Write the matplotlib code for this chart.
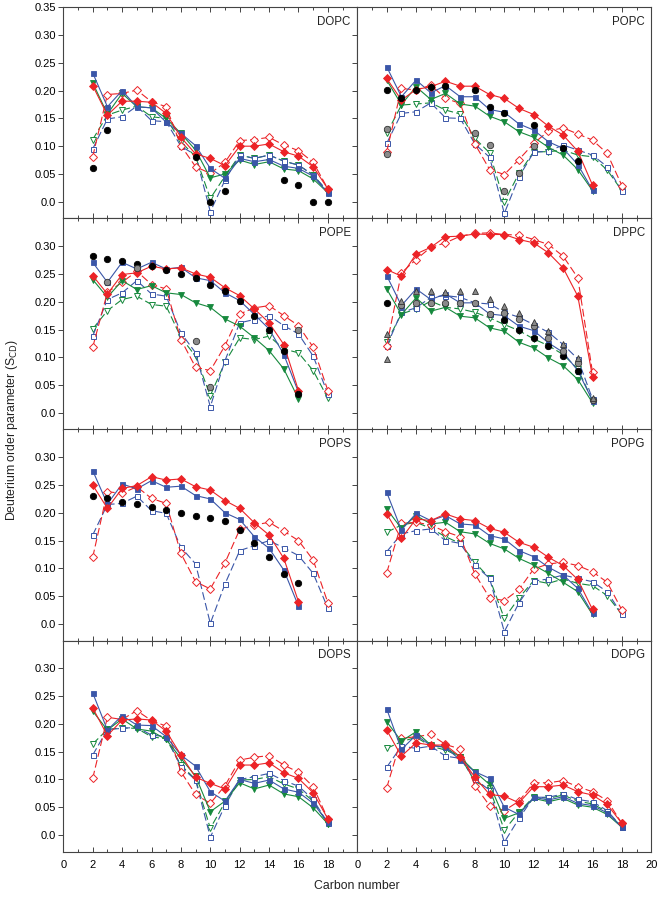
import matplotlib
matplotlib.use("Agg")
import matplotlib.pyplot as plt
from matplotlib.ticker import MultipleLocator, FuncFormatter

plt.rcParams['font.family'] = ['Liberation Sans', 'DejaVu Sans']

# numeros de carbono
c16 = list(range(2, 17))
c18 = list(range(2, 19))

# ---------------- DOPC ----------------
dopc_red = [0.209, 0.156, 0.181, 0.181, 0.179, 0.159, 0.116, 0.086, 0.078, 0.065, 0.100, 0.100, 0.104, 0.090, 0.082, 0.063, 0.023]
dopc_red_o = [0.081, 0.193, 0.195, 0.201, 0.180, 0.171, 0.101, 0.063, 0.051, 0.071, 0.110, 0.112, 0.116, 0.102, 0.092, 0.071, 0.023]
dopc_blue = [0.232, 0.171, 0.200, 0.171, 0.169, 0.143, 0.123, 0.101, 0.060, 0.042, 0.078, 0.072, 0.076, 0.064, 0.060, 0.046, 0.016]
dopc_blue_o = [0.095, 0.149, 0.153, 0.172, 0.146, 0.144, 0.100, 0.084, -0.018, 0.039, 0.084, 0.078, 0.084, 0.073, 0.066, 0.048, 0.018]
dopc_green = [0.214, 0.158, 0.195, 0.171, 0.169, 0.150, 0.123, 0.093, 0.043, 0.050, 0.075, 0.067, 0.072, 0.059, 0.056, 0.041, 0.016]
dopc_green_o = [0.112, 0.156, 0.165, 0.172, 0.153, 0.150, 0.108, 0.081, 0.006, 0.046, 0.084, 0.078, 0.084, 0.073, 0.066, 0.048, 0.018]
dopc_black_x = [2, 3, 9, 10, 11, 15, 16, 17, 18]
dopc_black_y = [0.060, 0.130, 0.081, 0.000, 0.020, 0.040, 0.030, 0.000, 0.000]

# ---------------- POPC ----------------
popc_red = [0.222, 0.183, 0.202, 0.207, 0.217, 0.208, 0.208, 0.193, 0.186, 0.168, 0.157, 0.136, 0.120, 0.091, 0.030]
popc_red_o = [0.090, 0.204, 0.201, 0.210, 0.186, 0.177, 0.104, 0.058, 0.049, 0.076, 0.105, 0.127, 0.133, 0.122, 0.111, 0.087, 0.029]
popc_blue = [0.243, 0.189, 0.219, 0.196, 0.209, 0.189, 0.189, 0.166, 0.161, 0.140, 0.129, 0.108, 0.096, 0.067, 0.021]
popc_blue_o = [0.105, 0.159, 0.162, 0.178, 0.151, 0.150, 0.104, 0.080, -0.021, 0.045, 0.089, 0.091, 0.102, 0.093, 0.084, 0.063, 0.019]
popc_green = [0.219, 0.175, 0.207, 0.184, 0.195, 0.176, 0.172, 0.154, 0.144, 0.126, 0.116, 0.098, 0.084, 0.058, 0.020]
popc_green_o = [0.123, 0.174, 0.176, 0.178, 0.165, 0.158, 0.114, 0.088, 0.000, 0.051, 0.090, 0.090, 0.093, 0.084, 0.081, 0.057, 0.020]
popc_black_x = [2, 3, 4, 5, 6, 8, 9, 10, 12, 14, 15]
popc_black_y = [0.202, 0.186, 0.202, 0.206, 0.209, 0.201, 0.171, 0.160, 0.138, 0.096, 0.073]
popc_gray_x = [2, 2, 8, 9, 10, 11, 12]
popc_gray_y = [0.131, 0.086, 0.123, 0.103, 0.020, 0.051, 0.101]

# ---------------- POPE ----------------
pope_red = [0.247, 0.214, 0.249, 0.252, 0.264, 0.259, 0.261, 0.250, 0.244, 0.225, 0.211, 0.187, 0.162, 0.123, 0.040]
pope_red_o = [0.118, 0.217, 0.235, 0.255, 0.231, 0.223, 0.132, 0.082, 0.076, 0.121, 0.178, 0.189, 0.193, 0.175, 0.157, 0.118, 0.040]
pope_blue = [0.271, 0.235, 0.271, 0.259, 0.271, 0.259, 0.262, 0.243, 0.238, 0.216, 0.202, 0.177, 0.151, 0.105, 0.037]
pope_blue_o = [0.138, 0.204, 0.216, 0.238, 0.214, 0.210, 0.144, 0.108, 0.011, 0.094, 0.162, 0.168, 0.175, 0.157, 0.142, 0.102, 0.034]
pope_green = [0.240, 0.208, 0.238, 0.222, 0.229, 0.216, 0.213, 0.198, 0.190, 0.169, 0.156, 0.135, 0.112, 0.079, 0.025]
pope_green_o = [0.151, 0.184, 0.204, 0.210, 0.195, 0.192, 0.136, 0.102, 0.031, 0.091, 0.135, 0.132, 0.138, 0.115, 0.108, 0.076, 0.026]
pope_black_x = c16
pope_black_y = [0.283, 0.277, 0.273, 0.268, 0.264, 0.258, 0.250, 0.243, 0.231, 0.219, 0.202, 0.175, 0.150, 0.112, 0.034]
pope_gray_x = [3, 5, 9, 10, 16]
pope_gray_y = [0.235, 0.261, 0.130, 0.046, 0.150]

# ---------------- DPPC ----------------
dppc_red = [0.258, 0.246, 0.286, 0.298, 0.317, 0.318, 0.322, 0.321, 0.321, 0.312, 0.306, 0.288, 0.261, 0.210, 0.065]
dppc_red_o = [0.121, 0.252, 0.276, 0.298, 0.306, 0.318, 0.323, 0.324, 0.321, 0.320, 0.312, 0.303, 0.282, 0.243, 0.073]
dppc_blue = [0.247, 0.193, 0.223, 0.204, 0.214, 0.198, 0.198, 0.178, 0.175, 0.156, 0.148, 0.126, 0.109, 0.076, 0.022]
dppc_blue_o = [0.120, 0.181, 0.189, 0.208, 0.211, 0.208, 0.198, 0.196, 0.181, 0.172, 0.159, 0.145, 0.123, 0.097, 0.025]
dppc_green = [0.223, 0.177, 0.207, 0.183, 0.190, 0.174, 0.171, 0.153, 0.147, 0.127, 0.117, 0.099, 0.085, 0.060, 0.018]
dppc_green_o = [0.127, 0.178, 0.187, 0.201, 0.190, 0.187, 0.181, 0.171, 0.159, 0.148, 0.133, 0.121, 0.105, 0.079, 0.022]
dppc_black_x = [2, 10, 11, 12, 13, 14, 15]
dppc_black_y = [0.198, 0.168, 0.150, 0.135, 0.121, 0.102, 0.076]
dppc_gray_x = list(range(3, 17))
dppc_gray_y = [0.195, 0.198, 0.198, 0.198, 0.198, 0.198, 0.178, 0.180, 0.169, 0.157, 0.135, 0.112, 0.090, 0.023]
dppc_tri_x = [2, 2] + list(range(3, 17))
dppc_tri_y = [0.142, 0.097, 0.202, 0.219, 0.219, 0.217, 0.219, 0.219, 0.205, 0.192, 0.180, 0.163, 0.148, 0.124, 0.099, 0.026]

# ---------------- POPS ----------------
pops_red = [0.250, 0.208, 0.244, 0.249, 0.265, 0.259, 0.261, 0.247, 0.241, 0.222, 0.208, 0.182, 0.160, 0.118, 0.040]
pops_red_o = [0.120, 0.238, 0.235, 0.247, 0.226, 0.217, 0.127, 0.076, 0.063, 0.110, 0.170, 0.178, 0.183, 0.167, 0.150, 0.115, 0.038]
pops_blue = [0.276, 0.216, 0.252, 0.243, 0.258, 0.246, 0.248, 0.231, 0.225, 0.200, 0.188, 0.157, 0.136, 0.097, 0.032]
pops_blue_o = [0.160, 0.215, 0.217, 0.230, 0.204, 0.199, 0.138, 0.108, 0.001, 0.072, 0.132, 0.141, 0.150, 0.137, 0.123, 0.091, 0.028]
pops_black_x = c16
pops_black_y = [0.230, 0.226, 0.220, 0.215, 0.211, 0.205, 0.200, 0.195, 0.191, 0.186, 0.169, 0.145, 0.121, 0.090, 0.073]

# ---------------- POPG ----------------
popg_red = [0.198, 0.154, 0.189, 0.186, 0.198, 0.189, 0.186, 0.172, 0.165, 0.147, 0.138, 0.120, 0.105, 0.080, 0.026]
popg_red_o = [0.092, 0.181, 0.183, 0.178, 0.166, 0.157, 0.090, 0.047, 0.042, 0.062, 0.099, 0.108, 0.111, 0.105, 0.094, 0.075, 0.025]
popg_blue = [0.237, 0.169, 0.199, 0.186, 0.195, 0.180, 0.178, 0.159, 0.153, 0.132, 0.121, 0.102, 0.088, 0.064, 0.019]
popg_blue_o = [0.130, 0.162, 0.168, 0.171, 0.150, 0.145, 0.106, 0.082, -0.014, 0.038, 0.077, 0.081, 0.088, 0.082, 0.076, 0.058, 0.017]
popg_green = [0.207, 0.172, 0.195, 0.180, 0.183, 0.166, 0.162, 0.145, 0.135, 0.118, 0.106, 0.091, 0.075, 0.058, 0.017]
popg_green_o = [0.165, 0.178, 0.183, 0.172, 0.157, 0.145, 0.111, 0.082, 0.010, 0.047, 0.078, 0.073, 0.081, 0.073, 0.069, 0.051, 0.017]

# ---------------- DOPS ----------------
dops_red = [0.229, 0.179, 0.207, 0.209, 0.207, 0.187, 0.144, 0.104, 0.093, 0.083, 0.126, 0.126, 0.130, 0.112, 0.102, 0.076, 0.029]
dops_red_o = [0.102, 0.212, 0.208, 0.224, 0.206, 0.196, 0.114, 0.073, 0.057, 0.089, 0.135, 0.140, 0.143, 0.126, 0.113, 0.087, 0.029]
dops_blue = [0.256, 0.189, 0.215, 0.198, 0.197, 0.177, 0.144, 0.124, 0.078, 0.061, 0.100, 0.093, 0.099, 0.083, 0.077, 0.057, 0.023]
dops_blue_o = [0.144, 0.190, 0.192, 0.194, 0.180, 0.177, 0.123, 0.099, -0.004, 0.053, 0.100, 0.105, 0.111, 0.098, 0.088, 0.064, 0.021]
dops_green = [0.223, 0.189, 0.209, 0.191, 0.187, 0.172, 0.138, 0.106, 0.042, 0.061, 0.094, 0.083, 0.090, 0.074, 0.069, 0.049, 0.020]
dops_green_o = [0.164, 0.190, 0.193, 0.192, 0.177, 0.173, 0.126, 0.100, 0.012, 0.059, 0.099, 0.100, 0.105, 0.092, 0.083, 0.061, 0.020]

# ---------------- DOPG ----------------
dopg_red = [0.189, 0.142, 0.166, 0.162, 0.162, 0.141, 0.104, 0.073, 0.070, 0.058, 0.087, 0.087, 0.090, 0.078, 0.072, 0.055, 0.021]
dopg_red_o = [0.085, 0.174, 0.177, 0.181, 0.163, 0.155, 0.089, 0.053, 0.044, 0.061, 0.094, 0.094, 0.098, 0.087, 0.078, 0.062, 0.021]
dopg_blue = [0.227, 0.154, 0.180, 0.161, 0.158, 0.135, 0.114, 0.102, 0.050, 0.037, 0.068, 0.063, 0.069, 0.057, 0.053, 0.040, 0.014]
dopg_blue_o = [0.122, 0.160, 0.156, 0.160, 0.142, 0.138, 0.100, 0.081, -0.013, 0.030, 0.068, 0.068, 0.074, 0.064, 0.060, 0.044, 0.014]
dopg_green = [0.204, 0.169, 0.186, 0.162, 0.158, 0.140, 0.114, 0.091, 0.030, 0.040, 0.066, 0.060, 0.066, 0.054, 0.050, 0.037, 0.014]
dopg_green_o = [0.156, 0.168, 0.176, 0.160, 0.153, 0.141, 0.096, 0.084, 0.009, 0.041, 0.069, 0.066, 0.072, 0.061, 0.056, 0.042, 0.014]

ROJO = '#ec2327'
AZUL = '#3a56a8'
VERDE = '#16893d'
GRIS = '#8a8a8a'


def serie_llena(ax, x, y, color, marker, ms=3.8, z=3):
    ax.plot(x, y, '-', color=color, lw=0.8, marker=marker, ms=ms,
            mfc=color, mec=color, mew=0.6, zorder=z)


def serie_abierta(ax, x, y, color, marker, ms=3.8, z=2):
    ax.plot(x, y, color=color, lw=0.8, ls=(0, (7, 3)), marker=marker, ms=ms,
            mfc='white', mec=color, mew=0.7, zorder=z)


def puntos(ax, x, y, color, marker='o', ms=4.6, mec='black'):
    ax.plot(x, y, ls='none', marker=marker, ms=ms, mfc=color, mec=mec,
            mew=0.6, zorder=4)


# paneles: (nombre, carbonos lineas solidas, rojo, rojo abierto, azul, azul abierto, verde, verde abierto, carbonos lineas discontinuas)
paneles = [
    ('DOPC', c18, dopc_red, dopc_red_o, dopc_blue, dopc_blue_o, dopc_green, dopc_green_o, c18),
    ('POPC', c16, popc_red, popc_red_o, popc_blue, popc_blue_o, popc_green, popc_green_o, c18),
    ('POPE', c16, pope_red, pope_red_o, pope_blue, pope_blue_o, pope_green, pope_green_o, c18),
    ('DPPC', c16, dppc_red, dppc_red_o, dppc_blue, dppc_blue_o, dppc_green, dppc_green_o, c16),
    ('POPS', c16, pops_red, pops_red_o, pops_blue, pops_blue_o, None, None, c18),
    ('POPG', c16, popg_red, popg_red_o, popg_blue, popg_blue_o, popg_green, popg_green_o, c18),
    ('DOPS', c18, dops_red, dops_red_o, dops_blue, dops_blue_o, dops_green, dops_green_o, c18),
    ('DOPG', c18, dopg_red, dopg_red_o, dopg_blue, dopg_blue_o, dopg_green, dopg_green_o, c18),
]

fig = plt.figure(figsize=(6.61, 9.0), dpi=100)

izq = 63.3 / 661
ancho = 294.0 / 661
alto_px = 211.1
arriba_px = 7.3


def fmt_y(v, pos):
    if abs(v) < 1e-9:
        return '0.0'
    return f'{v:.2f}'


for i, (nombre, xs, r, ro, b, bo, g, go, xd) in enumerate(paneles):
    fila, col = divmod(i, 2)
    abajo = 1 - (arriba_px + alto_px * (fila + 1)) / 900
    ax = fig.add_axes([izq + col * ancho, abajo, ancho, alto_px / 900])

    if g is not None:
        serie_abierta(ax, xd, go, VERDE, 'v', ms=4.2)
    serie_abierta(ax, xd, bo, AZUL, 's', ms=3.6)
    serie_abierta(ax, xd, ro, ROJO, 'D', ms=3.6)
    if g is not None:
        serie_llena(ax, xs, g, VERDE, 'v', ms=4.2)
    serie_llena(ax, xs, b, AZUL, 's', ms=3.6)
    serie_llena(ax, xs, r, ROJO, 'D', ms=3.6, z=3.5)

    if nombre == 'DOPC':
        puntos(ax, dopc_black_x, dopc_black_y, 'black')
    if nombre == 'POPC':
        puntos(ax, popc_black_x, popc_black_y, 'black')
        puntos(ax, popc_gray_x, popc_gray_y, GRIS, mec='#333333')
    if nombre == 'POPE':
        puntos(ax, pope_black_x, pope_black_y, 'black')
        puntos(ax, pope_gray_x, pope_gray_y, GRIS, mec='#333333')
    if nombre == 'DPPC':
        puntos(ax, dppc_black_x, dppc_black_y, 'black')
        puntos(ax, dppc_gray_x, dppc_gray_y, GRIS, mec='#333333')
        puntos(ax, dppc_tri_x, dppc_tri_y, GRIS, marker='^', ms=4.0, mec='#333333')
    if nombre == 'POPS':
        puntos(ax, pops_black_x, pops_black_y, 'black')

    ax.set_xlim(0, 20)
    ax.set_ylim(-0.03, 0.35)
    ax.xaxis.set_major_locator(MultipleLocator(2))
    ax.xaxis.set_minor_locator(MultipleLocator(1))
    ax.tick_params(axis='x', which='both', direction='in', top=True, bottom=True,
                   labelsize=8, color='#444444', width=0.7)
    ax.tick_params(axis='x', which='major', length=3.5)
    ax.tick_params(axis='x', which='minor', length=2.2)
    if fila == 0 and col == 0:
        ax.set_yticks([0.0, 0.05, 0.10, 0.15, 0.20, 0.25, 0.30, 0.35])
    else:
        ax.set_yticks([0.0, 0.05, 0.10, 0.15, 0.20, 0.25, 0.30])
    ax.yaxis.set_major_formatter(FuncFormatter(fmt_y))
    ax.tick_params(axis='y', direction='out', length=3.5, width=0.7, labelsize=8,
                   color='#444444', labelleft=(col == 0), pad=2)
    for s in ax.spines.values():
        s.set_color('#444444')
        s.set_linewidth(0.8)

    if fila == 3:
        if col == 0:
            ax.set_xticks(range(0, 20, 2))
            ax.set_xticklabels([str(v) for v in range(0, 20, 2)])
        ax.tick_params(axis='x', labelbottom=True, pad=6)
    else:
        ax.tick_params(axis='x', labelbottom=False)

    ax.text(0.978, 0.93, nombre, transform=ax.transAxes, ha='right', va='center',
            fontsize=8.3, color='#222222')

fig.text(0.018, 0.522, 'Deuterium order parameter (S$_{\\mathrm{CD}}$)', rotation=90,
         ha='center', va='center', fontsize=8.8, color='#222222')
fig.text(izq + ancho, 0.016, 'Carbon number', ha='center', va='center',
         fontsize=8.8, color='#222222')

fig.savefig('out.png', dpi=100)
